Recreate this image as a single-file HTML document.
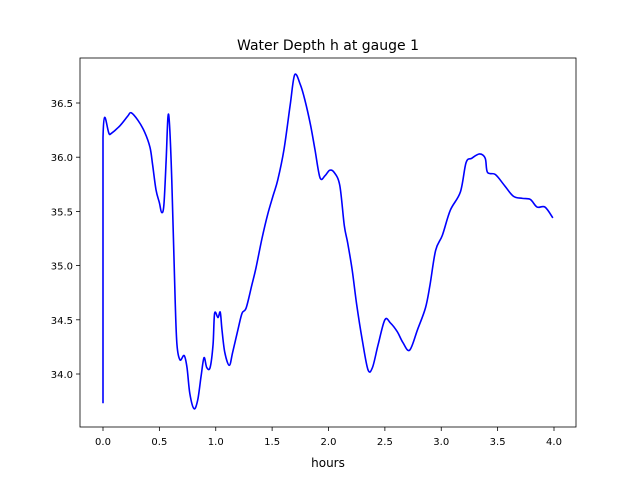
<!DOCTYPE html>
<html><head><meta charset="utf-8"><style>
body{margin:0;background:#fff}
text{font-family:"DejaVu Sans","Liberation Sans",sans-serif;fill:#000}
</style></head><body>
<svg id="chart" width="640" height="480" xmlns="http://www.w3.org/2000/svg">
<rect width="640" height="480" fill="#fff"/>
<text x="328" y="50" font-size="14" text-anchor="middle">Water Depth h at gauge 1</text>
<text x="328" y="467" font-size="12" text-anchor="middle">hours</text>
<g id="plot"></g>
</svg>
<script>
const xTicks=[0,0.5,1,1.5,2,2.5,3,3.5,4];
const xTickLabels=["0.0","0.5","1.0","1.5","2.0","2.5","3.0","3.5","4.0"];
const yTicks=[34,34.5,35,35.5,36,36.5];
const yTickLabels=["34.0","34.5","35.0","35.5","36.0","36.5"];
const hours=[0,0,0.062,0.15,0.22,0.25,0.31,0.37,0.417,0.44,0.47,0.5,0.52,0.54,0.56,0.576,0.59,0.61,0.64,0.656,0.683,0.72,0.745,0.77,0.807,0.84,0.87,0.896,0.92,0.95,0.976,0.99,1.02,1.04,1.055,1.08,1.12,1.15,1.197,1.233,1.27,1.32,1.357,1.41,1.46,1.51,1.55,1.605,1.66,1.7,1.75,1.79,1.84,1.88,1.925,1.97,2.01,2.05,2.1,2.14,2.17,2.21,2.25,2.3,2.35,2.39,2.44,2.5,2.55,2.61,2.66,2.72,2.79,2.86,2.9,2.95,3.01,3.08,3.17,3.22,3.27,3.34,3.39,3.41,3.48,3.56,3.64,3.72,3.79,3.85,3.92,3.99];
const depth=[33.73,36.18,36.21,36.29,36.38,36.41,36.34,36.23,36.09,35.93,35.7,35.58,35.49,35.56,35.97,36.37,36.3,35.79,34.68,34.27,34.13,34.17,34.06,33.82,33.68,33.76,33.98,34.15,34.06,34.06,34.27,34.56,34.52,34.57,34.41,34.2,34.08,34.2,34.41,34.56,34.61,34.82,34.98,35.25,35.47,35.65,35.79,36.07,36.48,36.76,36.67,36.53,36.3,36.07,35.81,35.83,35.88,35.86,35.74,35.37,35.21,34.96,34.64,34.31,34.04,34.06,34.27,34.5,34.47,34.39,34.29,34.22,34.41,34.61,34.82,35.14,35.28,35.51,35.68,35.95,35.99,36.03,35.99,35.86,35.84,35.74,35.64,35.62,35.61,35.54,35.54,35.44];
const L=80,R=576,T=58,B=427;
const xS=v=>103+v*112.75;
const yS=v=>103+(36.5-v)*108.4;
const NS="http://www.w3.org/2000/svg";
const g=document.getElementById('plot');
function mk(t,a){const e=document.createElementNS(NS,t);for(const k in a)e.setAttribute(k,a[k]);g.appendChild(e);return e;}
xTicks.forEach((v,i)=>{
  const l=mk('line',{x1:xS(v),x2:xS(v),y1:B,y2:B+4,stroke:'#000','stroke-width':0.8});
  
  
  const t=mk('text',{x:xS(v),y:B+18,'font-size':10,'text-anchor':'middle'});
  t.textContent=xTickLabels[i];
  
  
});
yTicks.forEach((v,i)=>{
  const l=mk('line',{x1:L-4,x2:L,y1:yS(v),y2:yS(v),stroke:'#000','stroke-width':0.8});
  
  
  const t=mk('text',{x:L-7,y:yS(v)+4,'font-size':10,'text-anchor':'end'});
  t.textContent=yTickLabels[i];
  
  
});
const pts=hours.map((h,i)=>[xS(h),yS(depth[i])]);
let d='M'+pts[0][0]+','+pts[0][1];
for(let i=0;i<pts.length-1;i++){
  const p0=pts[Math.max(0,i-1)],p1=pts[i],p2=pts[i+1],p3=pts[Math.min(pts.length-1,i+2)];
  const k=1/6;
  const c1=[p1[0]+(p2[0]-p0[0])*k,p1[1]+(p2[1]-p0[1])*k];
  const c2=[p2[0]-(p3[0]-p1[0])*k,p2[1]-(p3[1]-p1[1])*k];
  if(i===0){d+=' L'+p2[0]+','+p2[1];continue;}
  d+=' C'+c1[0]+','+c1[1]+' '+c2[0]+','+c2[1]+' '+p2[0]+','+p2[1];
}
const p=mk('path',{d:d,fill:'none',stroke:'#0000ff','stroke-width':1.6,'stroke-linejoin':'round'});


const f=mk('rect',{x:L,y:T,width:R-L,height:B-T,fill:'none',stroke:'#000','stroke-width':0.8});


</script>
</body></html>
